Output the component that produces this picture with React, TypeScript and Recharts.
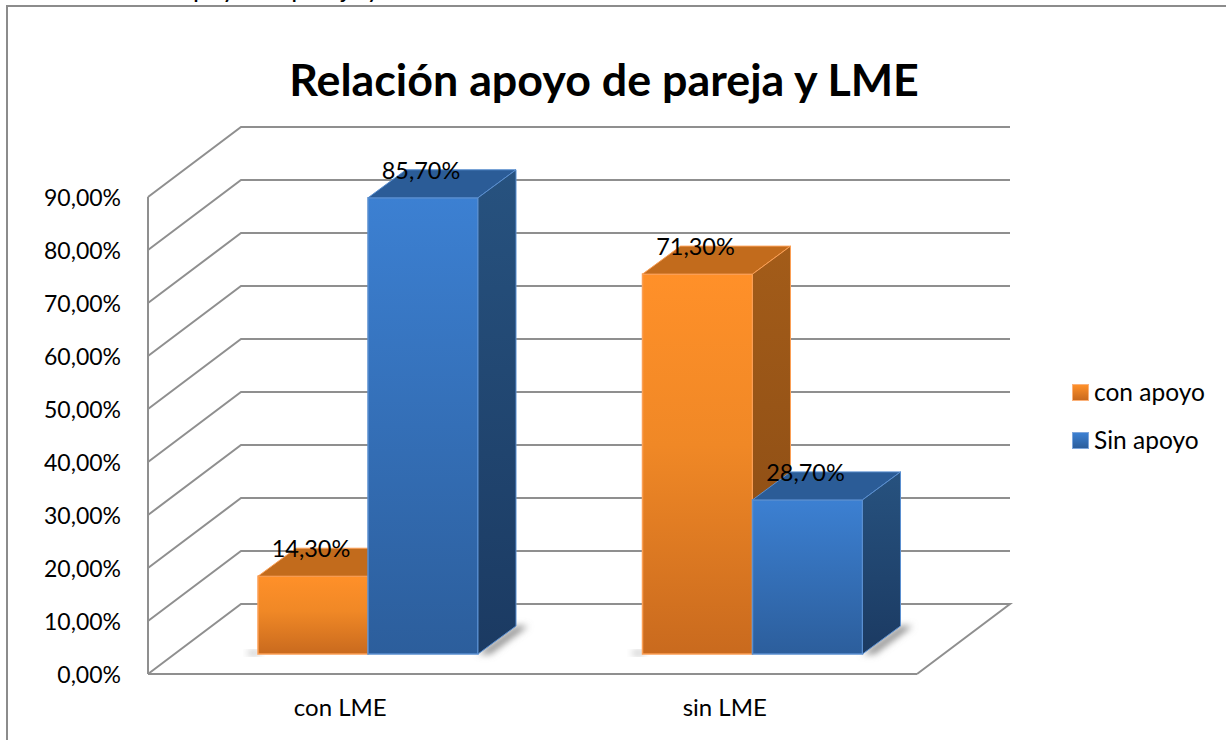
import React from "react";
import { BarChart, Bar, XAxis, YAxis, CartesianGrid, Legend, LabelList } from "recharts";

const categories = ["con LME", "sin LME"];
const conApoyo = [14.3, 71.3];
const sinApoyo = [85.7, 28.7];
const yTicks = [0, 10, 20, 30, 40, 50, 60, 70, 80, 90];
const chartTitle = "Relación apoyo de pareja y LME";
const clippedCaption = "Relación apoyo de pareja y";
const seriesNames = ["con apoyo", "Sin apoyo"];

const rows = categories.map((c, i) => ({ cat: c, a: conApoyo[i], b: sinApoyo[i] }));

const FONT = "Lato, Carlito, Calibri, sans-serif";
const GRID = "#8f8f8f";
const WALL_DX = 93;
const WALL_DY = 70;
const WALL_RIGHT = 1010;
const BAR_SHIFT_X = 28;
const BAR_SHIFT_Y = 20;
const TOP_EXTRA = 2;
const DEPTH_X = 38;
const DEPTH_Y = 28;

const GridLine = (props: any) => {
  const { x1, y1, x2, y, height, index } = props;
  const isFloor = Math.abs(y1 - (y + height)) < 1;
  const pts = isFloor
    ? `${x1},${y1} ${x1 + WALL_DX},${y1 - WALL_DY} ${WALL_RIGHT},${y1 - WALL_DY} ${x2},${y1}`
    : `${x1},${y1} ${x1 + WALL_DX},${y1 - WALL_DY} ${WALL_RIGHT},${y1 - WALL_DY}`;
  return <polyline key={`grid-${index}-${y1}`} points={pts} fill="none" stroke={GRID} strokeWidth={2} />;
};

type Palette = { front: string; top: string; side: string; edge: string };
const ORANGE: Palette = { front: "url(#frontO)", top: "#c26b1c", side: "url(#sideO)", edge: "#fb9f55" };
const BLUE: Palette = { front: "url(#frontB)", top: "#2b5c97", side: "url(#sideB)", edge: "#5a8fd0" };

const box = (p: any, pal: Palette, shadow: "left" | "right") => {
  const x = p.x + BAR_SHIFT_X;
  const w = p.width;
  const base = p.y + p.height - BAR_SHIFT_Y;
  const top = p.y - BAR_SHIFT_Y - TOP_EXTRA;
  return (
    <g>
      {shadow === "right" ? (
        <polygon
          points={`${x + w},${base} ${x + w + DEPTH_X},${base - DEPTH_Y} ${x + w + DEPTH_X + 12},${base - DEPTH_Y} ${x + w + 12},${base}`}
          fill="#8a8a8a"
          filter="url(#blur)"
        />
      ) : (
        <rect x={x - 10} y={base - 3} width={12} height={4} fill="#b5b5b5" filter="url(#blur)" />
      )}
      <rect x={x} y={top} width={w} height={base - top} fill={pal.front} stroke={pal.edge} strokeWidth={1.5} />
      <polygon
        points={`${x},${top} ${x + DEPTH_X},${top - DEPTH_Y} ${x + w + DEPTH_X},${top - DEPTH_Y} ${x + w},${top}`}
        fill={pal.top}
        stroke={pal.edge}
        strokeWidth={1}
      />
      <polygon
        points={`${x + w},${top} ${x + w + DEPTH_X},${top - DEPTH_Y} ${x + w + DEPTH_X},${base - DEPTH_Y} ${x + w},${base}`}
        fill={pal.side}
        stroke={pal.edge}
        strokeWidth={1}
      />
    </g>
  );
};

const OrangeBar = (p: any) => box(p, ORANGE, "left");
const BlueBar = (p: any) => box(p, BLUE, "right");

const fmt = (v: number) => v.toFixed(2).replace(".", ",") + "%";

const BarLabel = (p: any) => (
  <text
    x={p.x + p.width / 2 + BAR_SHIFT_X - 2}
    y={p.y - BAR_SHIFT_Y - TOP_EXTRA - 25}
    textAnchor="middle"
    dominantBaseline="middle"
    fontFamily={FONT}
    fontSize={23.5}
    fill="#000"
  >
    {fmt(p.value)}
  </text>
);

const LegendBody = () => (
  <div style={{ position: "relative", width: 0, height: 0 }}>
    {seriesNames.map((name, i) => (
      <div key={name} style={{ position: "absolute", left: 1072, top: 376 + i * 48, whiteSpace: "nowrap", display: "flex", alignItems: "center", fontFamily: FONT, fontSize: 24.5, lineHeight: "32px", color: "#000" }}>
        <span
          style={{
            display: "inline-block",
            width: 17,
            height: 17,
            marginRight: 5,
            boxSizing: "border-box",
            border: `1px solid ${i === 0 ? "#fbb27a" : "#7ea6dc"}`,
            background: i === 0 ? "linear-gradient(#ff9029,#c96a1e)" : "linear-gradient(#3c80d2,#2c5e9c)",
          }}
        />
        {name}
      </div>
    ))}
  </div>
);

export default function App() {
  return (
    <div style={{ position: "absolute", left: 0, top: 0, width: 1226, height: 740, overflow: "hidden", background: "#fff" }}>
      <div style={{ position: "absolute", right: 846, top: -28, fontFamily: FONT, fontSize: 26, lineHeight: "30px", whiteSpace: "nowrap", color: "#000" }}>{clippedCaption}</div>
      <div style={{ position: "absolute", left: 6, top: 5, width: 1300, height: 800, border: "2px solid #8c8c8c", boxSizing: "border-box" }} />
      <div style={{ position: "absolute", left: 0, top: 49, width: 1208, textAlign: "center", fontFamily: FONT, fontWeight: 700, fontSize: 44.8, lineHeight: "60px", color: "#000", whiteSpace: "nowrap" }}>{chartTitle}</div>
      <div style={{ position: "absolute", left: 0, top: 0 }}>
        <BarChart
          width={1226}
          height={740}
          data={rows}
          barCategoryGap={82}
          barGap={0}
          margin={{ top: 197, right: 309, bottom: 0, left: 0 }}
          style={{ background: "transparent" }}
        >
          <defs>
            <linearGradient id="frontO" x1="0" y1="0" x2="0" y2="1">
              <stop offset="0" stopColor="#ff9029" />
              <stop offset="0.45" stopColor="#f08826" />
              <stop offset="1" stopColor="#c96a1e" />
            </linearGradient>
            <linearGradient id="frontB" x1="0" y1="0" x2="0" y2="1">
              <stop offset="0" stopColor="#3c80d2" />
              <stop offset="1" stopColor="#2c5e9c" />
            </linearGradient>
            <linearGradient id="sideO" x1="0" y1="0" x2="0" y2="1">
              <stop offset="0" stopColor="#a35c19" />
              <stop offset="1" stopColor="#874a14" />
            </linearGradient>
            <linearGradient id="sideB" x1="0" y1="0" x2="0" y2="1">
              <stop offset="0" stopColor="#27527f" />
              <stop offset="1" stopColor="#1b3a62" />
            </linearGradient>
            <filter id="blur" x="-40%" y="-40%" width="180%" height="180%">
              <feGaussianBlur stdDeviation="3.5" />
            </filter>
          </defs>
          <CartesianGrid
            vertical={false}
            horizontal={GridLine}
            horizontalValues={yTicks}
            syncWithTicks
          />
          <XAxis
            dataKey="cat"
            height={66}
            axisLine={{ stroke: GRID, strokeWidth: 2 }}
            tickLine={false}
            tickSize={0}
            tickMargin={25}
            tick={{ fontFamily: FONT, fontSize: 24, fill: "#000" }}
            interval={0}
          />
          <YAxis
            width={148}
            domain={[0, 90]}
            ticks={yTicks}
            axisLine={{ stroke: GRID, strokeWidth: 2 }}
            tickLine={false}
            tickSize={0}
            tickMargin={27}
            tickFormatter={(v: number) => fmt(v)}
            tick={{ fontFamily: FONT, fontSize: 23, fill: "#000", dy: 1 }}
            interval={0}
          />
          <Legend content={<LegendBody />} wrapperStyle={{ position: "absolute", left: 0, top: 0, width: 0, height: 0 }} />
          <Bar dataKey="a" name={seriesNames[0]} shape={OrangeBar} isAnimationActive={false}>
            <LabelList dataKey="a" content={BarLabel} />
          </Bar>
          <Bar dataKey="b" name={seriesNames[1]} shape={BlueBar} isAnimationActive={false}>
            <LabelList dataKey="b" content={BarLabel} />
          </Bar>
        </BarChart>
      </div>
    </div>
  );
}
